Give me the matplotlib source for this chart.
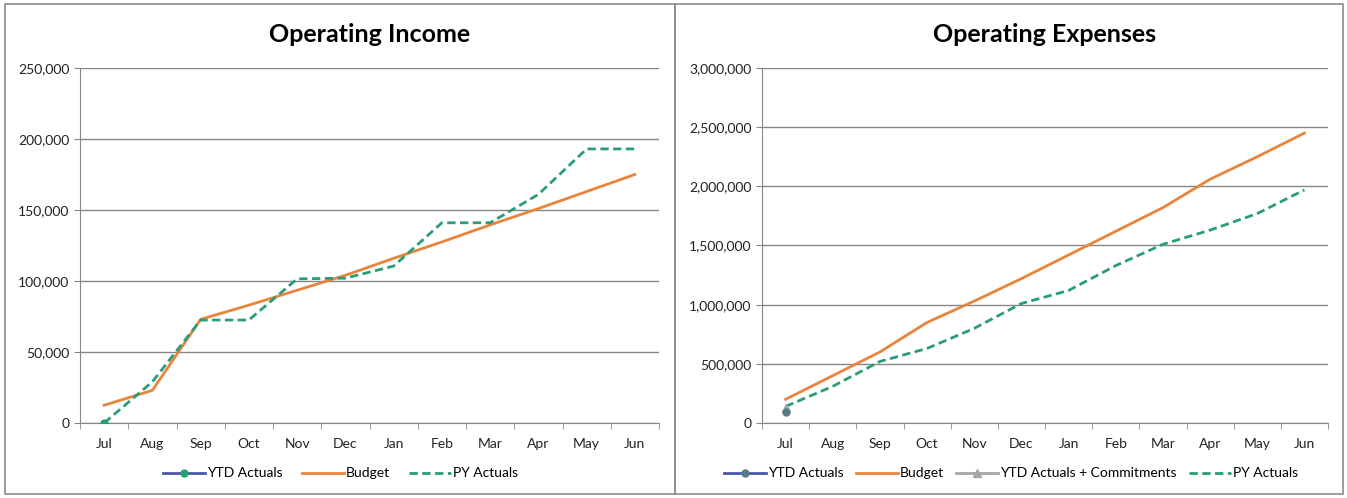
import numpy as np
import matplotlib
matplotlib.use("Agg")
import matplotlib.pyplot as plt
from matplotlib.patches import Rectangle
from matplotlib.ticker import FuncFormatter, MultipleLocator

plt.rcParams['font.family'] = ['Lato', 'DejaVu Sans']

months = ['Jul', 'Aug', 'Sep', 'Oct', 'Nov', 'Dec',
          'Jan', 'Feb', 'Mar', 'Apr', 'May', 'Jun']
nan = np.nan

# operating income, cumulative
inc_ytd = [0, nan, nan, nan, nan, nan, nan, nan, nan, nan, nan, nan]
inc_budget = [12500, 23000, 73000, 83000, 93500, 104000,
              116000, 127500, 139500, 151000, 163000, 175000]
inc_py = [0, 29000, 72500, 72500, 101500, 102000,
          110500, 141000, 141000, 161000, 193000, 193000]

# operating expenses, cumulative
exp_ytd = [90000, nan, nan, nan, nan, nan, nan, nan, nan, nan, nan, nan]
exp_ytd_commit = [125000, nan, nan, nan, nan, nan, nan, nan, nan, nan, nan, nan]
exp_budget = [200000, 400000, 600000, 850000, 1030000, 1220000,
              1420000, 1620000, 1820000, 2060000, 2250000, 2450000]
exp_py = [140000, 310000, 520000, 630000, 800000, 1010000,
          1120000, 1330000, 1510000, 1630000, 1770000, 1970000]

C_YTD = '#4b58a6'
C_BUD = '#e8853d'
C_COM = '#a6a6a6'
C_PY = '#2a9d78'
C_GRID = '#868686'

fig = plt.figure(figsize=(13.47, 4.98), dpi=100)

# panel frames
for x0, x1 in [(5, 675), (675, 1343)]:
    fig.add_artist(Rectangle((x0 / 1347, 4 / 498), (x1 - x0) / 1347, 490 / 498,
                             transform=fig.transFigure, fill=False,
                             edgecolor='#8c8c8c', lw=1.2))

ax1 = fig.add_axes([80 / 1347, 1 - 423 / 498, 579 / 1347, 355 / 498])
ax2 = fig.add_axes([762 / 1347, 1 - 423 / 498, 566 / 1347, 355 / 498])

x = np.arange(len(months))
fmt = FuncFormatter(lambda v, p: f'{v:,.0f}')


def style(ax, ymax, step, title):
    ax.set_xlim(-0.5, 11.5)
    ax.set_ylim(0, ymax)
    ax.yaxis.set_major_locator(MultipleLocator(step))
    ax.yaxis.set_major_formatter(fmt)
    ax.grid(axis='y', color=C_GRID, lw=1)
    ax.set_axisbelow(True)
    for s in ['top', 'right']:
        ax.spines[s].set_visible(False)
    for s in ['left', 'bottom']:
        ax.spines[s].set_color(C_GRID)
    ax.set_xticks(x)
    ax.set_xticklabels(months)
    ax.set_xticks(np.arange(-0.5, 12, 1), minor=True)
    ax.tick_params(axis='x', which='major', length=0, pad=11,
                   labelsize=10, labelcolor='#222222')
    ax.tick_params(axis='x', which='minor', length=4, color=C_GRID)
    ax.tick_params(axis='y', length=4, color=C_GRID, labelsize=10,
                   labelcolor='#222222')
    ax.set_title(title, fontsize=18, fontweight='bold', pad=19)


def legend(ax, order, ncol, cx, gap):
    h, l = ax.get_legend_handles_labels()
    ax.legend([h[i] for i in order], [l[i] for i in order], ncol=ncol,
              loc='center', bbox_to_anchor=(cx, -0.142), frameon=False,
              fontsize=10, handlelength=3.0, handletextpad=0.15,
              columnspacing=gap)


ax1.plot(x, inc_budget, color=C_BUD, lw=2, label='Budget', zorder=3)
ax1.plot(x, inc_py, color=C_PY, lw=2, ls=(0, (3, 1.6)), label='PY Actuals', zorder=4)
ax1.plot(x, inc_ytd, color=C_YTD, lw=2, marker='o', ms=5,
         mfc=C_PY, mec=C_PY, label='YTD Actuals', zorder=5)
style(ax1, 250000, 50000, 'Operating Income')
legend(ax1, [2, 0, 1], 3, 0.45, 1.4)

ax2.plot(x, exp_budget, color=C_BUD, lw=2, label='Budget', zorder=3)
ax2.plot(x, exp_py, color=C_PY, lw=2, ls=(0, (3, 1.6)), label='PY Actuals', zorder=4)
ax2.plot(x, exp_ytd_commit, color=C_COM, lw=2, marker='^', ms=6,
         label='YTD Actuals + Commitments', zorder=5)
ax2.plot(x, exp_ytd, color=C_YTD, lw=2, marker='o', ms=5,
         mfc='#557a88', mec='#557a88', label='YTD Actuals', zorder=6)
style(ax2, 3000000, 500000, 'Operating Expenses')
legend(ax2, [3, 0, 2, 1], 4, 0.44, 0.9)

fig.savefig('out.png', dpi=100)
